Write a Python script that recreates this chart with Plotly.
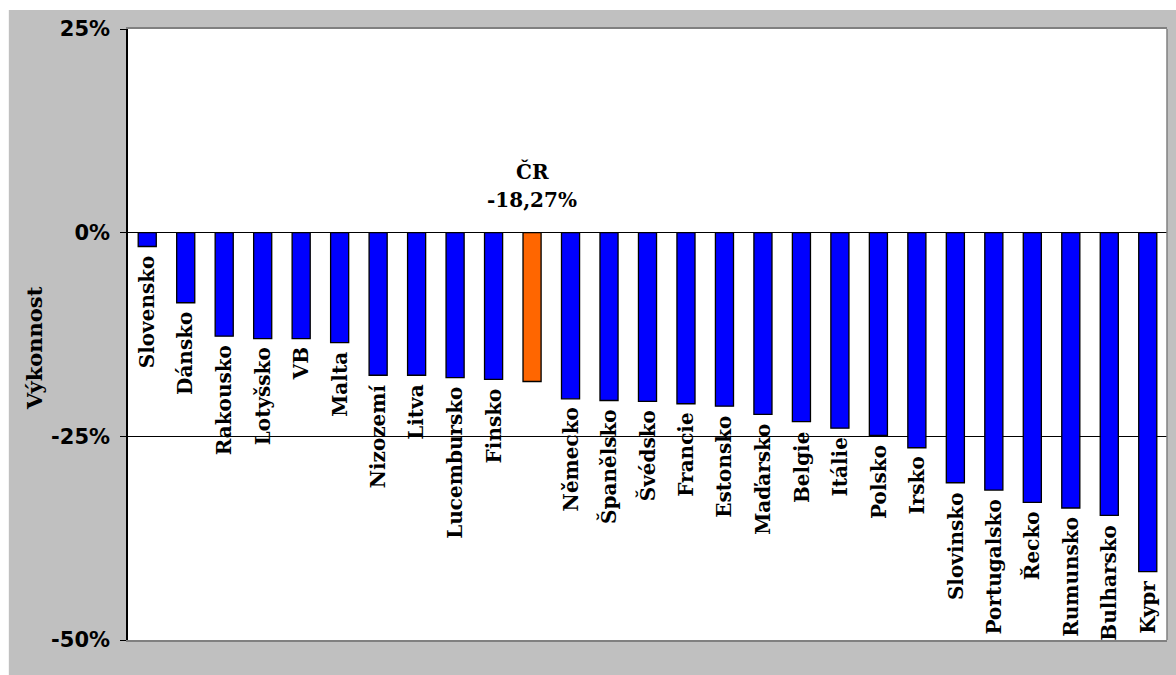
import plotly.graph_objects as go

countries = ["Slovensko", "Dánsko", "Rakousko", "Lotyšsko", "VB", "Malta", "Nizozemí",
             "Litva", "Lucembursko", "Finsko", "ČR", "Německo", "Španělsko", "Švédsko",
             "Francie", "Estonsko", "Maďarsko", "Belgie", "Itálie", "Polsko", "Irsko",
             "Slovinsko", "Portugalsko", "Řecko", "Rumunsko", "Bulharsko", "Kypr"]
values = [-1.7, -8.6, -12.7, -13.0, -13.0, -13.5, -17.5, -17.5, -17.8, -18.0, -18.27,
          -20.4, -20.6, -20.7, -21.0, -21.3, -22.3, -23.2, -24.0, -24.9, -26.4,
          -30.7, -31.6, -33.1, -33.8, -34.7, -41.6]
highlight = "ČR"
highlight_label = ["ČR", "-18,27%"]
tick_vals = [25, 0, -25, -50]
tick_text = ["25%", "0%", "-25%", "-50%"]
grid_vals = [0, -25]
y_title = "Výkonnost"

BLUE = "#0000FF"
ORANGE = "#FF6600"
SERIF = "DejaVu Serif"
SANS = "DejaVu Sans"

colors = [ORANGE if c == highlight else BLUE for c in countries]

fig = go.Figure()
fig.add_trace(go.Bar(
    x=countries, y=values,
    marker=dict(color=colors, line=dict(color="black", width=1.3)),
    hoverinfo="skip",
))

lab_font = dict(family=SERIF, size=20, color="black", weight="bold")
annotations = []
for c, v in zip(countries, values):
    if c == highlight:
        continue
    annotations.append(dict(
        x=c, y=v, xref="x", yref="y", text=c, showarrow=False,
        textangle=-90, xanchor="center", yanchor="top", yshift=-7,
        font=lab_font,
    ))

annotations.append(dict(x=highlight, y=0, xref="x", yref="y", text=highlight_label[0],
                        showarrow=False, xanchor="center", yanchor="middle", yshift=61,
                        font=lab_font))
annotations.append(dict(x=highlight, y=0, xref="x", yref="y", text=highlight_label[1],
                        showarrow=False, xanchor="center", yanchor="middle", yshift=33,
                        font=lab_font))
annotations.append(dict(x=-0.0899, y=0.4774, xref="paper", yref="paper", text=y_title,
                        showarrow=False, textangle=-90, xanchor="center", yanchor="middle",
                        font=dict(family=SERIF, size=21, color="black", weight="bold")))

shapes = [
    dict(type="rect", xref="paper", yref="paper", x0=-0.2, x1=1.05, y0=1.0311, y1=1.1,
         fillcolor="white", line=dict(width=0), layer="above"),
    dict(type="rect", xref="paper", yref="paper", x0=-0.2, x1=-0.1147, y0=-0.1, y1=1.1,
         fillcolor="white", line=dict(width=0), layer="above"),
    dict(type="line", xref="paper", yref="paper", x0=1, x1=1, y0=0, y1=1,
         line=dict(color="#808080", width=1.5), layer="above"),
]

fig.update_layout(
    width=1176, height=675,
    margin=dict(l=128, r=9, t=29, b=35, autoexpand=False),
    paper_bgcolor="#C0C0C0",
    plot_bgcolor="white",
    bargap=0.53,
    showlegend=False,
    annotations=annotations,
    shapes=shapes,
    xaxis=dict(showticklabels=False, ticks="", showgrid=False, zeroline=False,
               showline=True, linecolor="#808080", linewidth=1.5, mirror=True,
               range=[-0.5, len(countries) - 0.5]),
    yaxis=dict(range=[-50, 25], tickvals=tick_vals, ticktext=tick_text,
               ticks="outside", ticklen=6, tickcolor="black", tickwidth=1,
               showline=True, linecolor="black", linewidth=1.5,
               showgrid=False, zeroline=False,
               minor=dict(tickvals=grid_vals, showgrid=True, gridcolor="black",
                          gridwidth=1, ticks=""),
               ticklabelstandoff=6,
               tickfont=dict(family=SANS, size=21, color="black", weight="bold")),
)

fig.write_html("out.html")
